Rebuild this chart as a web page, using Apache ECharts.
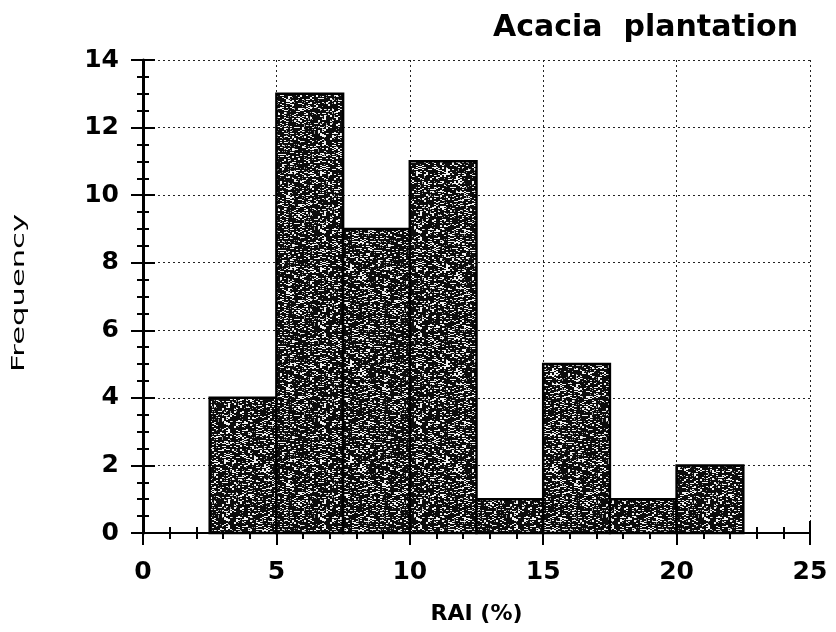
<!DOCTYPE html>
<html>
<head>
<meta charset="utf-8">
<script src="https://cdn.jsdelivr.net/npm/echarts@6/dist/echarts.min.js"></script>
<style>
  html, body { margin: 0; padding: 0; background: #fff; }
  #chart { width: 836px; height: 632px; }
</style>
</head>
<body>
<div id="chart"></div>
<script>
// histogram bins (RAI %) and counts
var binStart = [2.5, 5, 7.5, 10, 12.5, 15, 17.5, 20];
var binEnd = [5, 7.5, 10, 12.5, 15, 17.5, 20, 22.5];
var frequency = [4, 13, 9, 11, 1, 5, 1, 2];
var xTicks = [0, 5, 10, 15, 20, 25];
var yTicks = [0, 2, 4, 6, 8, 10, 12, 14];

// speckled grey fill like the scanned print
function makeSpeckle() {
    var c = document.createElement('canvas');
    c.width = 96; c.height = 96;
    var ctx = c.getContext('2d');
    ctx.fillStyle = '#0c0c0c';
    ctx.fillRect(0, 0, 96, 96);
    for (var y = 0; y < 96; y++) {
        for (var x = 0; x < 96; x += 2) {
            var h = Math.sin(x * 12.9898 + y * 78.233) * 43758.5453;
            h = h - Math.floor(h);
            if (h < 0.22) {
                ctx.fillStyle = '#f2f2f2';
                ctx.fillRect(x, y, 2, 1);
            } else if (h < 0.32) {
                ctx.fillStyle = '#9a9a9a';
                ctx.fillRect(x, y, 1, 1);
            }
        }
    }
    return c;
}
var speckle = makeSpeckle();

var chart = echarts.init(document.getElementById('chart'));

var labelFont = { fontFamily: 'DejaVu Sans', fontSize: 25, fontWeight: 'bold', color: '#000' };

function sideAxis(pos, min, max, interval, split) {
    return {
        type: 'value',
        position: pos,
        min: min, max: max, interval: interval,
        axisLine: { show: true, lineStyle: { color: '#000', width: 2 } },
        axisTick: { inside: true, length: 12, lineStyle: { color: '#000', width: 2 } },
        minorTick: { show: true, splitNumber: split, length: 6, lineStyle: { color: '#000', width: 2 } },
        axisLabel: { show: false },
        splitLine: { show: false }
    };
}

chart.setOption({
    animation: false,
    title: {
        text: 'Acacia  plantation',
        right: 33,
        top: 8,
        textStyle: { fontFamily: 'DejaVu Sans', fontSize: 30, fontWeight: 'bold', color: '#000' }
    },
    grid: { left: 143, right: 26, top: 60, bottom: 99 },
    graphic: [{
        type: 'text',
        x: 20,
        y: 293,
        rotation: Math.PI / 2,
        scaleX: 1.8,
        style: {
            text: 'Frequency',
            font: '17px "DejaVu Sans"',
            fill: '#000',
            align: 'center',
            verticalAlign: 'middle'
        }
    }],
    xAxis: [{
        type: 'value',
        min: 0, max: 25, interval: 5,
        name: 'RAI (%)',
        nameLocation: 'middle',
        nameGap: 70,
        nameTextStyle: { fontFamily: 'DejaVu Sans', fontSize: 22, fontWeight: 'bold', color: '#000' },
        axisLine: { lineStyle: { color: '#000', width: 2 } },
        axisTick: { inside: true, length: 12, lineStyle: { color: '#000', width: 2 } },
        minorTick: { show: true, splitNumber: 5, length: 6, lineStyle: { color: '#000', width: 2 } },
        axisLabel: Object.assign({ margin: 27, formatter: function (v) { return xTicks.indexOf(v) >= 0 ? v : ''; } }, labelFont),
        splitLine: { show: true, lineStyle: { color: '#222', type: [2, 3], width: 1 } }
    }, sideAxis('top', 0, 25, 5, 5)],
    yAxis: [{
        type: 'value',
        min: 0, max: 14, interval: 2,
        axisLine: { show: true, lineStyle: { color: '#000', width: 3 } },
        axisTick: { inside: true, length: 12, lineStyle: { color: '#000', width: 2 } },
        minorTick: { show: true, splitNumber: 4, length: 6, lineStyle: { color: '#000', width: 2 } },
        axisLabel: Object.assign({ margin: 24, formatter: function (v) { return yTicks.indexOf(v) >= 0 ? v : ''; } }, labelFont),
        splitLine: { show: true, lineStyle: { color: '#222', type: [2, 3], width: 1 } }
    }, sideAxis('right', 0, 14, 2, 4)],
    series: [{
        type: 'custom',
        xAxisIndex: 0,
        yAxisIndex: 0,
        data: binStart.map(function (s, i) { return [s, binEnd[i], frequency[i]]; }),
        renderItem: function (params, api) {
            var p0 = api.coord([api.value(0), 0]);
            var p1 = api.coord([api.value(1), api.value(2)]);
            return {
                type: 'rect',
                shape: { x: p0[0], y: p1[1], width: p1[0] - p0[0], height: p0[1] - p1[1] },
                style: { fill: { image: speckle, repeat: 'repeat' }, stroke: '#000', lineWidth: 2.5 }
            };
        }
    }]
});
</script>
</body>
</html>
